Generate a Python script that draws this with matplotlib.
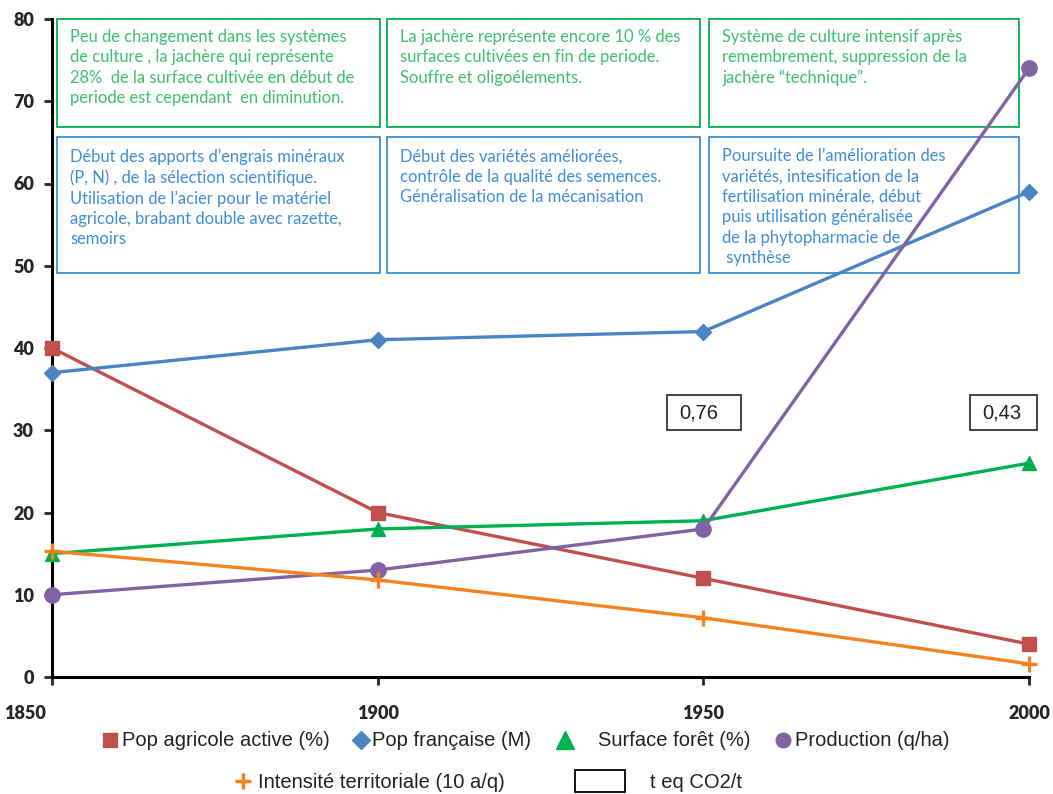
import matplotlib.pyplot as plt
from matplotlib.patches import Rectangle
from matplotlib.lines import Line2D
from matplotlib.transforms import ScaledTranslation

years = [1850, 1900, 1950, 2000]
pop_agricole = [40, 20, 12, 4]
pop_francaise = [37, 41, 42, 59]
surface_foret = [15, 18, 19, 26]
production = [10, 13, 18, 74]
intensite = [15.3, 11.8, 7.2, 1.6]

co2_labels = ["0,76", "0,43"]

period_notes_top = [
    "Peu de changement dans les systèmes\nde culture , la jachère qui représente\n28%  de la surface cultivée en début de\nperiode est cependant  en diminution.",
    "La jachère représente encore 10 % des\nsurfaces cultivées en fin de periode.\nSouffre et oligoélements.",
    "Système de culture intensif après\nremembrement, suppression de la\njachère “technique”.",
]
period_notes_bottom = [
    "Début des apports d’engrais minéraux\n(P, N) , de la sélection scientifique.\nUtilisation de l’acier pour le matériel\nagricole, brabant double avec razette,\nsemoirs",
    "Début des variétés améliorées,\ncontrôle de la qualité des semences.\nGénéralisation de la mécanisation",
    "Poursuite de l’amélioration des\nvariétés, intesification de la\nfertilisation minérale, début\npuis utilisation généralisée\nde la phytopharmacie de\n synthèse",
]

c_red = "#c0504d"
c_blue = "#4a84c4"
c_green = "#00b050"
c_purple = "#8064a2"
c_orange = "#f4831f"
c_note_green = "#3cc070"
c_note_blue = "#3d8fd6"

W, H = 1053, 794
fig = plt.figure(figsize=(W / 100, H / 100), dpi=100)
ax = fig.add_axes([52 / W, 1 - 677 / H, (1029 - 52) / W, (677 - 19) / H])

lw = 2.4
kw = dict(lw=lw, zorder=6, clip_on=False)
ax.plot(years, pop_agricole, color=c_red, marker="s", ms=9.5, **kw)
ax.plot(years, pop_francaise, color=c_blue, marker="D", ms=8.5, **kw)
ax.plot(years, surface_foret, color=c_green, marker="^", ms=10.5, **kw)
ax.plot(years, production, color=c_purple, marker="o", ms=11, **kw)
ax.plot(years, intensite, color=c_orange, marker="+", ms=11, mew=2.4, **kw)

ax.set_xlim(1850, 2000)
ax.set_ylim(0, 80)
ax.set_xticks(years)
ax.set_yticks(range(0, 81, 10))
for s in ["top", "right"]:
    ax.spines[s].set_visible(False)
for s in ["left", "bottom"]:
    ax.spines[s].set_linewidth(2.2)
    ax.spines[s].set_zorder(5)
ax.tick_params(axis="both", width=2.0, length=6, labelsize=13, colors="#262626")
ax.tick_params(axis="y", pad=7)
ax.tick_params(axis="x", pad=14)
for lab in ax.get_xticklabels() + ax.get_yticklabels():
    lab.set_fontweight("heavy")
    lab.set_family("Lato")
# first year label sits left of its tick
first = ax.get_xticklabels()[0]
first.set_transform(first.get_transform() + ScaledTranslation(-0.27, 0, fig.dpi_scale_trans))

# period annotation boxes (data coordinates)
box_spans = [(1850.8, 1900.4), (1901.4, 1949.5), (1950.9, 1998.5)]
note_kw = dict(ha="left", va="top", fontsize=11.9, family="Lato",
               linespacing=1.34, zorder=3)
for (x0, x1), txt in zip(box_spans, period_notes_top):
    ax.add_patch(Rectangle((x0, 66.9), x1 - x0, 80 - 66.9, fill=False,
                           ec=c_green, lw=1.3, zorder=3, clip_on=False))
    ax.text(x0 + 2.0, 78.8, txt, color=c_note_green, **note_kw)
for (x0, x1), txt in zip(box_spans, period_notes_bottom):
    ax.add_patch(Rectangle((x0, 49.1), x1 - x0, 65.7 - 49.1, fill=False,
                           ec=c_note_blue, lw=1.3, zorder=3))
    ax.text(x0 + 2.0, 64.3, txt, color=c_note_blue, **note_kw)

# CO2 value boxes
co2_spans = [(1944.4, 1955.8), (1990.9, 2001.3)]
for (x0, x1), txt in zip(co2_spans, co2_labels):
    ax.add_patch(Rectangle((x0, 30.0), x1 - x0, 4.3, fill=True, fc="white",
                           ec="#222222", lw=1.2, zorder=3, clip_on=False))
    ax.text(x0 + 1.9, 32.15, txt, ha="left", va="center", fontsize=14.5,
            family="Liberation Sans", color="#222222", zorder=3)

# legend, laid out in figure pixels
def px(x, y):
    return x / W, 1 - y / H

lab_kw = dict(ha="left", va="center", fontsize=14.5, family="Liberation Sans",
              color="#222222")
row1 = 740
row2 = 781
legend_marks = [
    (110, row1, c_red, "s", 10, 122, "Pop agricole active (%)"),
    (361, row1, c_blue, "D", 9, 372, "Pop française (M)"),
    (565, row1, c_green, "^", 13, 598, "Surface forêt (%)"),
    (783, row1, c_purple, "o", 10.5, 795, "Production (q/ha)"),
    (243, row2, c_orange, "+", 11, 258, "Intensité territoriale (10 a/q)"),
]
for mx, my, col, mk, ms, tx, label in legend_marks:
    x, y = px(mx, my)
    fig.add_artist(Line2D([x], [y], color=col, marker=mk, ms=ms, mew=2.5 if mk == "+" else 1,
                          ls="none", transform=fig.transFigure))
    fig.text(*px(tx, my + 1), label, **lab_kw)
x0, y0 = px(575, row2 + 11)
fig.add_artist(Rectangle((x0, y0), 50 / W, 22 / H, fill=False, ec="black", lw=1.3,
                         transform=fig.transFigure))
fig.text(*px(650, row2 + 1), "t eq CO2/t", **lab_kw)

fig.savefig("out.png", dpi=100)
